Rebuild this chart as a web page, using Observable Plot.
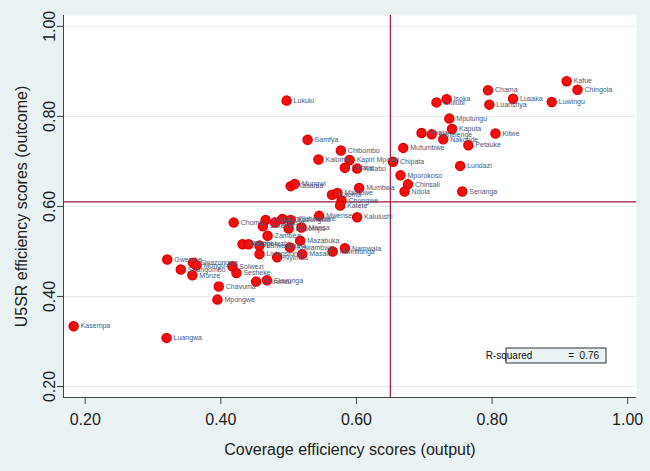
<!DOCTYPE html>
<html><head><meta charset="utf-8">
<script src="https://cdn.jsdelivr.net/npm/d3@7"></script>
<script src="https://cdn.jsdelivr.net/npm/@observablehq/plot@0.6"></script>
<style>
html,body{margin:0;padding:0;background:#eaf2f3;}
#chart{width:650px;height:471px;overflow:hidden;}
</style></head><body><div id="chart"></div>
<script>
const districts = ["Kafue","Chingola","Chama","Lusaka","Luwingu","Luanshya","Isoka","Chilubi","Mpulungu","Kaputa","Kitwe","Mbala","Nchelenge","Nakonde","Petauke","Mufumbwe","Lundazi","Senanga","Chinsali","Ndola","Mporokoso","Chipata",
"Lukulu","Samfya","Chibombo","Kalomo","Kapiri Mposhi","Kabwe","Kalabo","Kasama","Mungwi","Mumbwa","Kaoma","Mambwe","Chongwe","Katete","Mwense","Kalulushi",
"Choma","Mpika","Serenje","Mkushi","Chililabombwe","Kazungula","Kabompo","Mansa","Zambezi","Mazabuka","Milenge","Itezhi-tezhi","Lufwanyama","Livingstone","Nyimba","Kawambwa","Masaiti","Mwinilunga","Namwala",
"Gwembe","Sinazongwe","Mongu","Shangombo","Monze","Solwezi","Sesheke","Chavuma","Mpongwe","Siavonga","Chirundu","Luangwa","Kasempa"];
const coverage = [0.910,0.926,0.794,0.831,0.888,0.796,0.733,0.718,0.737,0.741,0.805,0.696,0.711,0.728,0.765,0.669,0.753,0.756,0.676,0.671,0.665,0.654,
0.497,0.528,0.577,0.544,0.590,0.583,0.601,0.503,0.509,0.604,0.564,0.572,0.578,0.576,0.545,0.601,
0.419,0.466,0.462,0.480,0.491,0.503,0.500,0.519,0.469,0.517,0.432,0.441,0.457,0.457,0.483,0.502,0.520,0.565,0.583,
0.321,0.359,0.364,0.341,0.358,0.417,0.423,0.397,0.395,0.468,0.452,0.320,0.183];
const u5sr = [0.878,0.859,0.858,0.839,0.832,0.826,0.838,0.831,0.795,0.772,0.762,0.763,0.760,0.749,0.736,0.730,0.690,0.633,0.649,0.633,0.669,0.699,
0.835,0.748,0.724,0.704,0.703,0.686,0.684,0.645,0.650,0.641,0.626,0.630,0.613,0.602,0.579,0.576,
0.564,0.570,0.556,0.564,0.572,0.570,0.551,0.553,0.535,0.524,0.516,0.516,0.513,0.494,0.487,0.509,0.494,0.500,0.507,
0.482,0.475,0.469,0.460,0.447,0.467,0.452,0.422,0.393,0.436,0.433,0.308,0.334];
const xTicks = [0.2,0.4,0.6,0.8,1.0];
const yTicks = [0.2,0.4,0.6,0.8,1.0];
const xDomain = [0.168, 1.013];
const yDomain = [0.1756, 1.024];
const meanCoverage = 0.65;
const meanU5sr = 0.61;
const rSquared = 0.76;
const xTitle = "Coverage efficiency scores (output)";
const yTitle = "U5SR efficiency scores (outcome)";

const data = districts.map((d, i) => ({name: d, x: coverage[i], y: u5sr[i]}));
const font = "'Liberation Sans', Arial, sans-serif";
const meanColor = "#a3173d";

const rBox = (index, scales, values, dims) => {
  const g = d3.create("svg:g");
  const right = dims.width - dims.marginRight - 30;
  const bottom = dims.height - dims.marginBottom - 34;
  const w = 100, h = 15;
  g.append("rect").attr("x", right - w).attr("y", bottom - h).attr("width", w).attr("height", h)
    .attr("fill", "#eaf2f3").attr("stroke", "#333").attr("stroke-width", 1);
  g.append("text").attr("x", right - w + 3).attr("y", bottom - 4).attr("font-size", 10)
    .attr("font-family", font).attr("fill", "#111").text("R-squared");
  g.append("text").attr("x", right - 7).attr("y", bottom - 4).attr("font-size", 10).attr("text-anchor", "end")
    .attr("font-family", font).attr("fill", "#111").attr("xml:space", "preserve").text("=  " + rSquared.toFixed(2));
  return g.node();
};

const plot = Plot.plot({
  width: 650, height: 471,
  marginLeft: 63, marginRight: 14, marginTop: 15, marginBottom: 74,
  style: {background: "#eaf2f3", fontFamily: font},
  x: {domain: xDomain, ticks: xTicks},
  y: {domain: yDomain, ticks: yTicks},
  marks: [
    Plot.frame({fill: "white", stroke: null}),
    Plot.gridY(yTicks, {stroke: "#e1eaed", strokeOpacity: 1}),
    Plot.ruleX([meanCoverage], {stroke: meanColor, strokeWidth: 1.2}),
    Plot.ruleY([meanU5sr], {stroke: meanColor, strokeWidth: 1.2}),
    Plot.dot(data, {x: "x", y: "y", r: 4.5, fill: "#f01010", stroke: "#e60000"}),
    Plot.text(data, {x: "x", y: "y", text: "name", dx: 7, textAnchor: "start", fontSize: 7, fill: "#46597a"}),
    Plot.ruleX([xDomain[0]], {stroke: "#444", strokeWidth: 1}),
    Plot.ruleY([yDomain[0]], {stroke: "#444", strokeWidth: 1}),
    Plot.axisX(xTicks, {tickSize: 7, tickPadding: 9, tickFormat: d3.format(".2f"), fontSize: 16, label: null, stroke: "#444", fill: "#222"}),
    Plot.axisY(yTicks, {tickSize: 6, tickRotate: -90, tickFormat: d3.format(".2f"), fontSize: 16, label: null, stroke: "#444", fill: "#222"}),
    Plot.text([xTitle], {text: d => d, frameAnchor: "bottom", dy: 52, textAnchor: "middle", lineAnchor: "middle", fontSize: 16, fill: "#222"}),
    Plot.text([yTitle], {text: d => d, frameAnchor: "left", dx: -42, rotate: -90, textAnchor: "middle", lineAnchor: "middle", fontSize: 16, fill: "#222"}),
    rBox
  ]
});
document.getElementById("chart").appendChild(plot);
</script>
</body></html>
